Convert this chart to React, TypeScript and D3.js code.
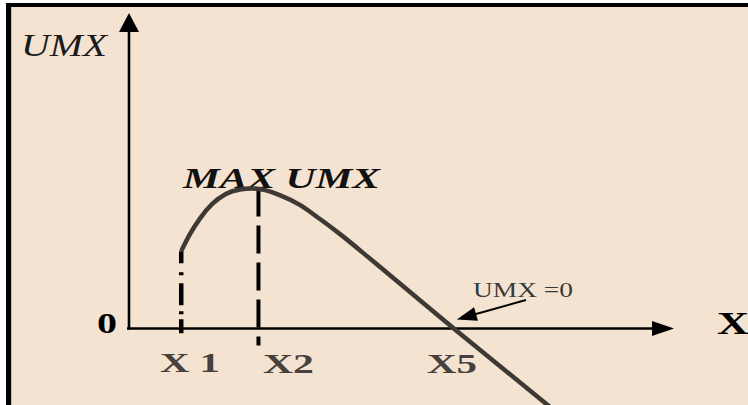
import React from "react";
import * as d3 from "d3";

// Curve of UMX (marginal utility) in abstract units
const curveX = [0.96, 1.12, 1.31, 1.53, 1.78, 2.04, 2.26, 2.5, 2.77, 3.14, 3.51, 3.88, 4.5, 5.97, 7.92];
const curveY = [2.46, 3.0, 3.51, 3.96, 4.28, 4.42, 4.45, 4.4, 4.24, 3.93, 3.48, 3.0, 2.12, 0, -2.75];

const markerLabels = ["X 1", "X2", "X5"];
const markerValues = [0.96, 2.38, 5.97];

const W = 748;
const H = 405;

export default function App() {
  const x = d3.scaleLinear().domain([0, 10]).range([129, 673]);
  const y = d3.scaleLinear().domain([0, 10]).range([328.5, 14]);

  const pts: [number, number][] = curveX.map((v, i) => [v, curveY[i]]);
  const line = d3
    .line<[number, number]>()
    .x((d) => x(d[0]))
    .y((d) => y(d[1]))
    .curve(d3.curveMonotoneX);

  const x0 = x(0);
  const y0 = y(0);
  const x1 = x(markerValues[0]);
  const x2 = x(markerValues[1]);
  const x5 = x(markerValues[2]);
  const y1 = y(curveY[0]);
  const yMax = y(d3.max(curveY) as number);

  const serif = "'Liberation Serif', 'DejaVu Serif', serif";
  const labelColor = "#46413c";

  // annotation arrow
  const ax0 = 526, ay0 = 300;
  const ax1 = x5 + 3, ay1 = y0 - 9;
  const ang = Math.atan2(ay1 - ay0, ax1 - ax0);
  const hl = 20, hw = 7;
  const bx = ax1 - hl * Math.cos(ang), by = ay1 - hl * Math.sin(ang);
  const px = -Math.sin(ang), py = Math.cos(ang);

  return (
    <div style={{ position: "fixed", left: 0, top: 0, width: W, height: H }}>
      <svg width={W} height={H} style={{ display: "block" }}>
        <rect x={0} y={0} width={W} height={H} fill="#ffffff" />
        <rect x={6} y={3} width={W} height={H} fill="#000000" />
        <rect x={11} y={7} width={W} height={H} fill="#F4E3D0" />
        <line x1={11.5} y1={7} x2={11.5} y2={H} stroke="#c9bcae" strokeWidth={1} />

        {/* Y axis */}
        <line x1={x0} y1={y0 + 1} x2={x0} y2={30} stroke="#000" strokeWidth={2.6} />
        <polygon points={`${x0 - 10},32 ${x0 + 10},32 ${x0},13`} fill="#000" />

        {/* X axis */}
        <line x1={x0 - 2} y1={y0} x2={654} y2={y0} stroke="#000" strokeWidth={2.6} />
        <polygon points={`652,${y0 - 7.5} 652,${y0 + 7.5} 674,${y0}`} fill="#000" />

        {/* Axis labels */}
        <text x={21} y={56} fontFamily={serif} fontStyle="italic" fontSize={31} fill="#1a1a1a" textLength={86} lengthAdjust="spacingAndGlyphs">UMX</text>
        <text x={97} y={333} fontFamily={serif} fontWeight="bold" fontSize={30} fill="#000" textLength={20} lengthAdjust="spacingAndGlyphs">0</text>
        <text x={717} y={334} fontFamily={serif} fontWeight="bold" fontSize={32} fill="#000" textLength={32} lengthAdjust="spacingAndGlyphs">X</text>

        {/* Marker labels */}
        <text x={160} y={372} fontFamily={serif} fontWeight="bold" fontSize={28} fill={labelColor} textLength={60} lengthAdjust="spacingAndGlyphs">{markerLabels[0]}</text>
        <text x={263} y={373} fontFamily={serif} fontWeight="bold" fontSize={28} fill={labelColor} textLength={51} lengthAdjust="spacingAndGlyphs">{markerLabels[1]}</text>
        <text x={427} y={373} fontFamily={serif} fontWeight="bold" fontSize={28} fill={labelColor} textLength={50} lengthAdjust="spacingAndGlyphs">{markerLabels[2]}</text>

        {/* Max label */}
        <text x={183} y={188} fontFamily={serif} fontWeight="bold" fontStyle="italic" fontSize={30} fill="#111" textLength={197} lengthAdjust="spacingAndGlyphs">MAX UMX</text>

        {/* UMX = 0 annotation */}
        <text x={473} y={297} fontFamily={serif} fontSize={21} fill="#3a3a3a" textLength={100} lengthAdjust="spacingAndGlyphs">UMX =0</text>
        <line x1={ax0} y1={ay0} x2={bx} y2={by} stroke="#000" strokeWidth={2} />
        <polygon
          points={`${ax1},${ay1} ${bx + px * hw},${by + py * hw} ${bx - px * hw},${by - py * hw}`}
          fill="#000"
        />

        {/* Vertical markers */}
        <line x1={x1} y1={y1} x2={x1} y2={y0 + 5} stroke="#000" strokeWidth={4.5} strokeDasharray="12 9 3 8 22 6 3 5 14 40" />
        <line x1={x2} y1={yMax} x2={x2} y2={y0 + 17} stroke="#000" strokeWidth={4} strokeDasharray="28 9" />

        {/* Curve */}
        <path d={line(pts) || ""} fill="none" stroke="#3e3934" strokeWidth={4.5} strokeLinecap="butt" />
      </svg>
    </div>
  );
}
